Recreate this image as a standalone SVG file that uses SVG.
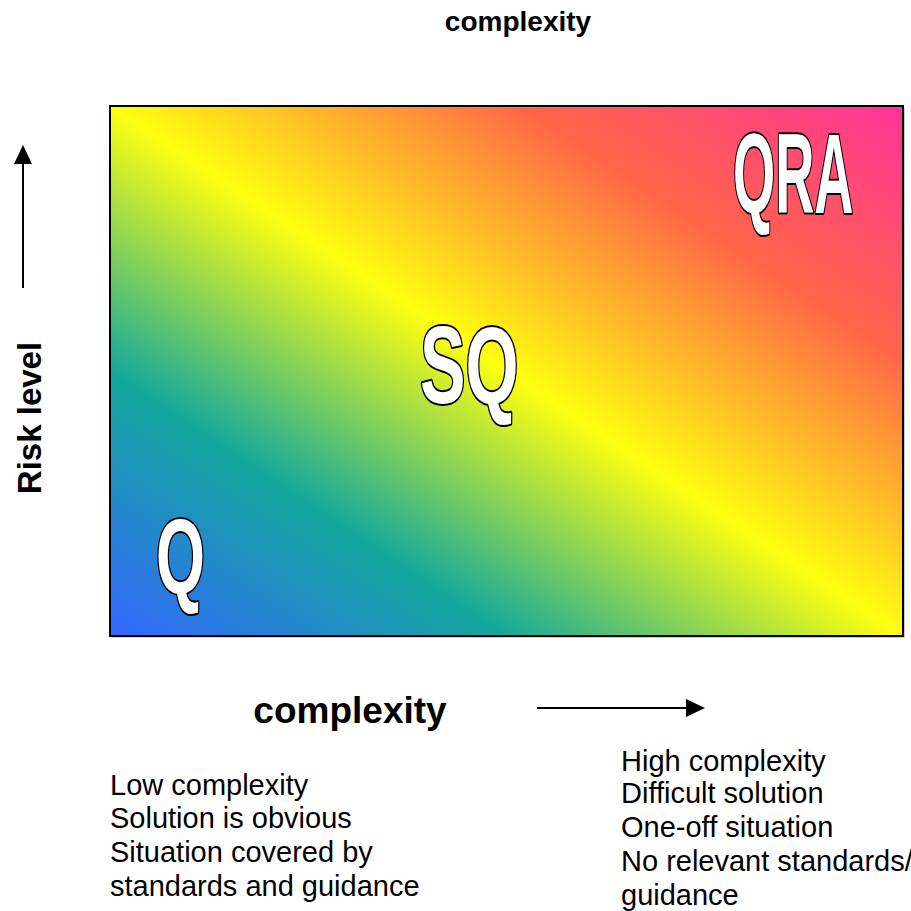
<svg xmlns="http://www.w3.org/2000/svg" width="911" height="911" viewBox="0 0 911 911">
<defs>
<linearGradient id="g" x1="0" y1="1" x2="1" y2="0">
<stop offset="0" stop-color="#3366FF"/>
<stop offset="0.25" stop-color="#14A89C"/>
<stop offset="0.5" stop-color="#FFFF10"/>
<stop offset="0.76" stop-color="#FF6648"/>
<stop offset="1" stop-color="#FF3399"/>
</linearGradient>
<style>
.lbl{font-family:"Liberation Sans",Arial,sans-serif;fill:#000}
.b{font-weight:bold}
.big{font-family:"Liberation Sans",Arial,sans-serif;font-weight:bold;fill:#fff;stroke:#000;stroke-width:4;paint-order:stroke;stroke-linejoin:round}
.ax{stroke:#000;stroke-width:2;fill:none}
</style>
</defs>
<rect x="112" y="108" width="793" height="530" fill="#999" opacity="0.5"/>
<rect id="chart" x="110" y="106" width="793" height="530" fill="url(#g)" stroke="#000" stroke-width="2"/>
<g id="Q"><text class="big" font-size="105" transform="translate(156,593) scale(0.6,1)">Q</text></g>
<g id="SQ"><text class="big" font-size="110" transform="translate(420,403) scale(0.62,1)">SQ</text></g>
<g id="QRA"><text class="big" font-size="113" transform="translate(733,213) scale(0.48,1)">QRA</text></g>
<text class="lbl b" x="518" y="31" font-size="28" text-anchor="middle">complexity</text>
<text class="lbl b" x="350" y="723" font-size="37" text-anchor="middle">complexity</text>
<text class="lbl b" font-size="33" text-anchor="middle" transform="translate(41,418) rotate(-90)">Risk level</text>
<g id="connectors">
<line class="ax" x1="23" y1="288" x2="23" y2="160"/>
<polygon points="23,145 14,164 32,164" fill="#000"/>
<line class="ax" x1="537" y1="708" x2="688" y2="708"/>
<polygon points="705,708 686,699 686,717" fill="#000"/>
</g>
<g class="lbl" font-size="29">
<text x="110" y="795">Low complexity</text>
<text x="110" y="828">Solution is obvious</text>
<text x="110" y="862">Situation covered by</text>
<text x="110" y="896">standards and guidance</text>
<text x="621" y="771">High complexity</text>
<text x="621" y="803">Difficult solution</text>
<text x="621" y="837">One-off situation</text>
<text x="621" y="871">No relevant standards/</text>
<text x="621" y="905">guidance</text>
</g>
</svg>
